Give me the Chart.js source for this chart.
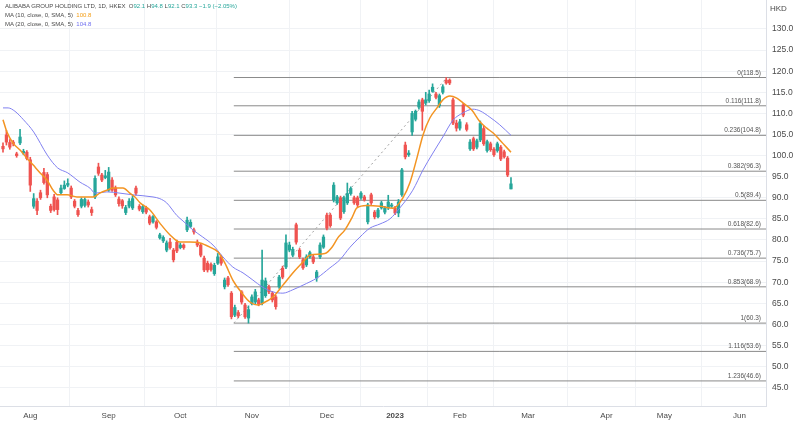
<!DOCTYPE html>
<html>
<head>
<meta charset="utf-8">
<script src="https://cdn.jsdelivr.net/npm/chart.js@4.4.1/dist/chart.umd.min.js"></script>
<style>
  html, body { margin: 0; padding: 0; background: #fff; }
  #wrap { position: relative; width: 800px; height: 425px; overflow: hidden; }
  #chart { position: absolute; left: 0; top: 0; }
  .hdr { position: absolute; left: 5px; font: 6px 'Liberation Sans', Arial, sans-serif; color: #4a4a4a; white-space: nowrap; }
  .hdr .v { color: #26a69a; }
  .hdr .o { color: #f39c12; }
  .hdr .p { color: #6f6ff0; }
  #unit { position: absolute; left: 770px; top: 4px; font: 8px 'Liberation Sans', Arial, sans-serif; color: #4a4a4a; }
</style>
</head>
<body>
<div id="wrap">
  <canvas id="chart" width="800" height="425"></canvas>
  <div class="hdr" style="top:3px">ALIBABA GROUP HOLDING LTD, 1D, HKEX&nbsp;&nbsp;O<span class="v">92.1</span>&nbsp;H<span class="v">94.8</span>&nbsp;L<span class="v">92.1</span>&nbsp;C<span class="v">93.3</span>&nbsp;<span class="v">−1.9 (−2.05%)</span></div>
  <div class="hdr" style="top:12px">MA (10, close, 0, SMA, 5)&nbsp;&nbsp;<span class="o">100.8</span></div>
  <div class="hdr" style="top:21px">MA (20, close, 0, SMA, 5)&nbsp;&nbsp;<span class="p">104.8</span></div>
  <div id="unit">HKD</div>
</div>
<script>
  // ===== Daily candles, one entry per trading day (index 0 = late Jul 2022) =====
  const candleOpen = [
    102.2, 104.9, 103.1, 103.2, 100.4, 103.0, 100.6, 100.8, 99.0, 88.0,
    89.2, 91.2, 96.0, 95.5, 88.0, 90.2, 89.5, 91.2, 92.2, 93.0,
    92.3, 89.2, 87.0, 88.0, 88.2, 89.0, 87.2, 90.2, 97.3, 95.4,
    94.8, 91.8, 94.2, 92.3, 89.7, 89.3, 86.5, 88.0, 87.6, 92.3,
    88.0, 86.7, 87.6, 85.5, 84.3, 84.3, 80.5, 79.8, 77.6, 79.5,
    77.6, 79.5, 78.2, 78.8, 82.4, 83.2, 82.4, 79.5, 78.8, 75.7,
    74.5, 74.2, 72.0, 74.5, 76.0, 68.9, 71.0, 67.4, 62.2, 62.8,
    67.7, 64.6, 61.5, 65.0, 65.3, 65.8, 65.0, 66.8, 68.9, 67.4,
    66.5, 68.9, 73.3, 73.6, 77.6, 76.4, 83.6, 77.6, 75.3, 74.1,
    76.0, 76.0, 71.0, 76.0, 78.3, 85.9, 85.9, 89.5, 88.8, 90.0,
    86.7, 88.8, 91.0, 90.0, 90.0, 90.0, 90.2, 84.3, 90.7, 86.6,
    85.5, 87.6, 86.6, 87.6, 88.0, 87.6, 86.4, 90.7, 102.5, 100.2,
    105.6, 108.6, 111.5, 113.2, 112.5, 113.0, 115.2, 114.6, 111.8, 115.0,
    117.9, 117.9, 113.2, 107.7, 106.5, 112.0, 107.3, 101.6, 104.0, 102.0,
    103.7, 106.4, 101.2, 102.8, 101.5, 101.2, 102.0, 100.9, 99.4, 92.1
  ];
  const candleHigh = [
    103.0, 106.0, 103.8, 103.6, 100.8, 106.2, 101.5, 101.2, 99.6, 91.0,
    89.8, 91.8, 97.0, 96.0, 88.5, 90.8, 90.0, 93.0, 94.0, 94.5,
    92.8, 89.6, 87.5, 90.0, 90.0, 89.5, 87.8, 95.2, 98.2, 95.8,
    96.5, 97.2, 94.8, 92.8, 90.2, 89.6, 88.2, 89.8, 90.4, 92.8,
    88.4, 88.3, 88.0, 85.9, 85.8, 84.6, 81.6, 81.0, 79.8, 80.4,
    78.0, 80.0, 79.3, 79.1, 85.4, 84.8, 82.8, 80.0, 79.2, 76.2,
    75.0, 74.6, 74.5, 76.8, 76.4, 71.0, 71.4, 67.8, 64.6, 63.3,
    68.0, 65.0, 64.4, 67.0, 68.3, 66.2, 77.6, 71.0, 69.3, 67.8,
    66.9, 71.6, 73.8, 81.2, 79.5, 78.3, 84.0, 78.0, 75.7, 76.5,
    77.4, 76.4, 72.8, 79.3, 81.2, 86.4, 86.3, 93.6, 90.6, 90.4,
    90.4, 93.5, 92.6, 90.4, 90.4, 91.5, 90.6, 88.7, 91.1, 87.0,
    87.5, 89.2, 88.0, 90.6, 88.7, 88.0, 89.6, 97.0, 103.2, 101.2,
    110.5, 110.8, 113.2, 113.6, 115.0, 115.5, 117.0, 115.0, 114.6, 116.8,
    118.5, 118.2, 113.6, 108.4, 108.6, 112.4, 107.8, 103.8, 104.4, 103.9,
    108.2, 107.0, 103.7, 103.2, 101.9, 103.2, 102.4, 101.3, 99.8, 94.8
  ];
  const candleLow = [
    100.8, 102.5, 101.5, 102.3, 99.6, 102.6, 100.2, 99.0, 91.5, 87.5,
    86.0, 89.6, 93.2, 90.0, 86.5, 86.8, 86.0, 90.8, 92.0, 92.6,
    89.8, 87.6, 85.6, 87.6, 87.8, 87.8, 85.8, 89.8, 95.3, 93.8,
    94.5, 91.5, 91.5, 90.3, 88.0, 87.5, 86.0, 87.6, 87.2, 90.6,
    86.9, 86.3, 86.2, 83.6, 84.0, 82.6, 80.2, 79.4, 77.2, 77.8,
    74.8, 77.0, 77.9, 77.8, 82.0, 82.9, 81.4, 78.4, 76.0, 72.5,
    72.4, 72.6, 71.6, 74.2, 74.0, 68.4, 69.0, 61.3, 61.8, 61.6,
    64.8, 61.4, 60.3, 64.6, 64.8, 64.4, 64.6, 66.4, 67.3, 65.3,
    63.6, 68.5, 70.8, 73.2, 77.2, 76.0, 79.0, 75.6, 73.0, 73.7,
    75.7, 74.4, 70.2, 75.6, 78.0, 82.4, 83.0, 89.0, 88.4, 84.8,
    86.3, 88.4, 90.6, 88.4, 87.9, 89.6, 89.2, 83.8, 88.4, 85.0,
    85.2, 87.3, 86.2, 87.2, 87.7, 86.0, 85.5, 90.3, 99.2, 99.8,
    104.8, 108.2, 111.0, 106.0, 112.0, 112.6, 115.0, 113.4, 111.4, 114.6,
    116.9, 116.8, 107.3, 105.8, 106.0, 109.2, 105.8, 101.2, 101.2, 101.6,
    103.3, 102.4, 100.8, 101.0, 99.8, 100.8, 98.8, 99.4, 95.0, 92.1
  ];
  const candleClose = [
    101.6, 103.2, 102.0, 102.8, 100.0, 104.4, 101.0, 99.3, 93.0, 89.8,
    87.0, 90.0, 93.6, 90.7, 87.0, 87.2, 87.2, 92.3, 93.0, 93.4,
    90.2, 88.0, 86.0, 89.6, 89.6, 88.3, 86.5, 94.6, 95.8, 94.2,
    95.2, 96.1, 91.8, 90.7, 88.6, 88.1, 87.7, 89.2, 89.8, 91.1,
    87.3, 87.9, 86.6, 84.0, 85.5, 83.0, 81.2, 80.6, 79.3, 78.2,
    75.3, 77.4, 78.8, 78.2, 84.7, 84.2, 81.9, 78.8, 76.4, 72.9,
    72.9, 73.0, 74.0, 76.0, 74.5, 70.5, 69.4, 61.8, 64.0, 62.0,
    65.3, 61.8, 63.5, 66.5, 67.7, 64.8, 70.5, 70.3, 67.7, 65.8,
    64.2, 71.2, 71.2, 79.3, 78.8, 77.8, 79.5, 76.0, 73.4, 76.0,
    77.0, 74.8, 72.4, 78.8, 80.7, 82.8, 83.4, 93.0, 90.2, 85.2,
    90.0, 91.0, 92.2, 88.8, 88.3, 91.1, 89.5, 88.3, 88.8, 85.5,
    87.1, 88.8, 87.6, 89.0, 88.3, 86.4, 89.0, 96.6, 99.7, 100.6,
    110.0, 110.5, 112.7, 110.5, 113.2, 114.6, 116.2, 113.8, 114.2, 116.3,
    117.2, 117.2, 107.7, 106.5, 108.0, 109.6, 106.2, 103.2, 101.6, 103.5,
    107.6, 102.8, 103.3, 101.4, 100.2, 102.8, 99.2, 99.7, 95.4, 93.3
  ];

  // ===== Moving averages (bar index, value) =====
  const ma10Idx = [0, 1.1, 2.9, 5, 7, 8.8, 10.9, 12.9, 14.7, 16.1, 18.8, 21.7, 26.4, 28.4, 30.5, 32.3, 35.2, 37.2, 38.7, 40.2, 43.1, 46, 49, 51.9, 54.8, 57.8, 60.7, 63, 65.1, 67.4, 70.1, 72.4, 74.8, 76.2, 79.2, 82.1, 85, 88, 90, 94.4, 96.5, 98.2, 100.3, 102.3, 103.8, 106.7, 110.6, 114.4, 117.3, 119.4, 121.4, 123.2, 125.2, 127.3, 129, 131.1, 133.1, 134.9, 137.5, 139.9, 141.9, 143.7, 145.7, 149];
  const ma10Val = [108.5, 105.7, 103.0, 101.3, 99.4, 97.8, 95.9, 94.2, 91.8, 90.7, 90.7, 90.2, 90.2, 91.1, 91.8, 92.3, 92.3, 91.1, 90.2, 88.8, 87.1, 84.0, 81.2, 79.5, 79.5, 79.3, 78.3, 77.2, 74.5, 70.5, 67.4, 65.3, 64.6, 65.0, 66.5, 69.3, 72.2, 74.8, 76.4, 76.8, 78.3, 80.5, 82.4, 85.2, 87.6, 88.2, 88.0, 87.5, 90.0, 93.7, 99.4, 104.9, 108.9, 111.3, 113.2, 114.1, 113.6, 112.5, 110.8, 108.0, 106.5, 105.4, 103.7, 100.8];
  const ma20Idx = [0, 1.5, 3.5, 6, 9, 13, 16, 19, 22.6, 25.5, 27, 30.5, 34.3, 38.1, 44, 46, 48, 51, 52.8, 55.7, 58.6, 61.6, 64.5, 67.4, 70.4, 73.3, 76, 79.2, 82.1, 85, 88, 92.1, 95.9, 98.8, 101.8, 104.7, 107.6, 110.6, 113.5, 116.4, 120.2, 123.2, 126.1, 129, 132, 134.9, 137.8, 139.9, 142.8, 145.7, 149];
  const ma20Val = [111.3, 111.3, 110.5, 108.5, 105.6, 100.1, 97.1, 95.9, 93.7, 92.3, 91.1, 91.4, 91.1, 90.7, 90.2, 89.8, 88.8, 85.8, 84.5, 82.4, 80.7, 78.8, 76.0, 73.6, 72.2, 70.5, 68.9, 67.7, 67.4, 68.2, 69.3, 71.0, 73.4, 75.3, 78.3, 80.7, 82.8, 83.8, 85.0, 87.6, 91.8, 96.6, 100.6, 104.4, 108.4, 110.1, 111.0, 110.6, 109.1, 107.3, 104.8];

  // ===== Fibonacci retracement (anchor bars and levels as labelled) =====
  const fibAnchorIdx = [67.7, 130.2];
  const fibAnchorPrice = [60.3, 118.5];
  const fibRatios = ['0', '0.116', '0.236', '0.382', '0.5', '0.618', '0.736', '0.853', '1', '1.116', '1.236'];
  const fibPrices = [118.5, 111.8, 104.8, 96.3, 89.4, 82.6, 75.7, 68.9, 60.3, 53.6, 46.6];

  // ===== Axis ticks =====
  const monthTickIdx = [8, 31, 52, 73, 95, 115, 134, 154, 177, 194, 216];
  const monthLabels = ['Aug', 'Sep', 'Oct', 'Nov', 'Dec', '2023', 'Feb', 'Mar', 'Apr', 'May', 'Jun'];
  const priceTicks = [45, 50, 55, 60, 65, 70, 75, 80, 85, 90, 95, 100, 105, 110, 115, 120, 125, 130];

  const UP = '#26a69a';
  const DOWN = '#ef5350';
  const X_MIN = -0.88, X_MAX = 223.8;
  const Y_MIN = 40.66, Y_MAX = 136.87;

  Chart.defaults.font.family = "'Liberation Sans', Arial, sans-serif";
  Chart.defaults.color = '#4a4a4a';

  const idx = candleOpen.map((_, i) => i);
  const candleColor = (ctx) => candleClose[ctx.dataIndex] >= candleOpen[ctx.dataIndex] ? UP : DOWN;

  const fibDatasets = fibPrices.map(p => ({
    type: 'line',
    data: [{ x: fibAnchorIdx[0], y: p }, { x: X_MAX, y: p }],
    borderColor: '#8a8a8a',
    borderWidth: 1,
    pointRadius: 0
  }));

  // labels for the fib levels, drawn just above each line at the right edge
  const fibLabels = {
    id: 'fibLabels',
    afterDatasetsDraw(chart) {
      const { ctx, chartArea, scales } = chart;
      ctx.save();
      ctx.font = "6.5px 'Liberation Sans', Arial, sans-serif";
      ctx.fillStyle = '#555';
      ctx.textAlign = 'right';
      ctx.textBaseline = 'alphabetic';
      fibPrices.forEach((p, i) => {
        const y = scales.y.getPixelForValue(p);
        ctx.fillText(`${fibRatios[i]}(${p.toFixed(1)})`, chartArea.right - 5, y - 3);
      });
      ctx.restore();
    }
  };

  // no extra room for edge labels: plot fills the canvas like the terminal view
  const noEdgePadding = (scale) => {
    scale.paddingTop = 0;
    scale.paddingBottom = 0;
    scale.paddingLeft = 0;
    scale.paddingRight = 0;
  };

  const chart = new Chart(document.getElementById('chart'), {
    type: 'bar',
    data: {
      datasets: [
        {
          type: 'line',
          data: ma10Idx.map((x, i) => ({ x, y: ma10Val[i] })),
          borderColor: '#f39422',
          borderWidth: 1.5,
          pointRadius: 0,
          cubicInterpolationMode: 'monotone'
        },
        {
          type: 'line',
          data: ma20Idx.map((x, i) => ({ x, y: ma20Val[i] })),
          borderColor: '#8080f0',
          borderWidth: 1,
          pointRadius: 0,
          cubicInterpolationMode: 'monotone'
        },
        {
          // candle bodies
          data: idx.map(i => ({ x: i, y: [candleOpen[i], candleClose[i]] })),
          backgroundColor: candleColor,
          barThickness: 2.6,
          minBarLength: 1,
          grouped: false
        },
        {
          // wicks
          data: idx.map(i => ({ x: i, y: [candleLow[i], candleHigh[i]] })),
          backgroundColor: candleColor,
          barThickness: 1,
          grouped: false
        },
        {
          type: 'line',
          data: fibAnchorIdx.map((x, i) => ({ x, y: fibAnchorPrice[i] })),
          borderColor: '#a0a0a0',
          borderWidth: 1,
          borderDash: [2, 3],
          pointRadius: 0
        },
        ...fibDatasets
      ]
    },
    options: {
      responsive: false,
      animation: false,
      layout: { padding: 0 },
      plugins: {
        legend: { display: false },
        tooltip: { enabled: false }
      },
      scales: {
        x: {
          type: 'linear',
          min: X_MIN,
          max: X_MAX,
          offset: false,
          grid: { color: '#f0f2f5', drawTicks: false },
          border: { color: '#dcdfe6' },
          afterBuildTicks: (scale) => { scale.ticks = monthTickIdx.map(v => ({ value: v })); },
          afterFit: (scale) => { scale.height = 19; noEdgePadding(scale); },
          ticks: {
            autoSkip: false,
            maxRotation: 0,
            padding: 5,
            color: '#4a4a4a',
            font: (ctx) => ({ size: 8, weight: monthLabels[ctx.index] === '2023' ? 'bold' : 'normal' }),
            callback: (v, i) => monthLabels[i]
          }
        },
        y: {
          position: 'right',
          min: Y_MIN,
          max: Y_MAX,
          grid: { color: '#f0f2f5', drawTicks: false },
          border: { color: '#dcdfe6' },
          afterBuildTicks: (scale) => { scale.ticks = priceTicks.map(v => ({ value: v })); },
          afterFit: (scale) => { scale.width = 34; noEdgePadding(scale); },
          ticks: {
            padding: 6,
            color: '#4a4a4a',
            font: { size: 8.5 },
            callback: (v) => Number(v).toFixed(1)
          }
        }
      }
    },
    plugins: [fibLabels]
  });
</script>
</body>
</html>
